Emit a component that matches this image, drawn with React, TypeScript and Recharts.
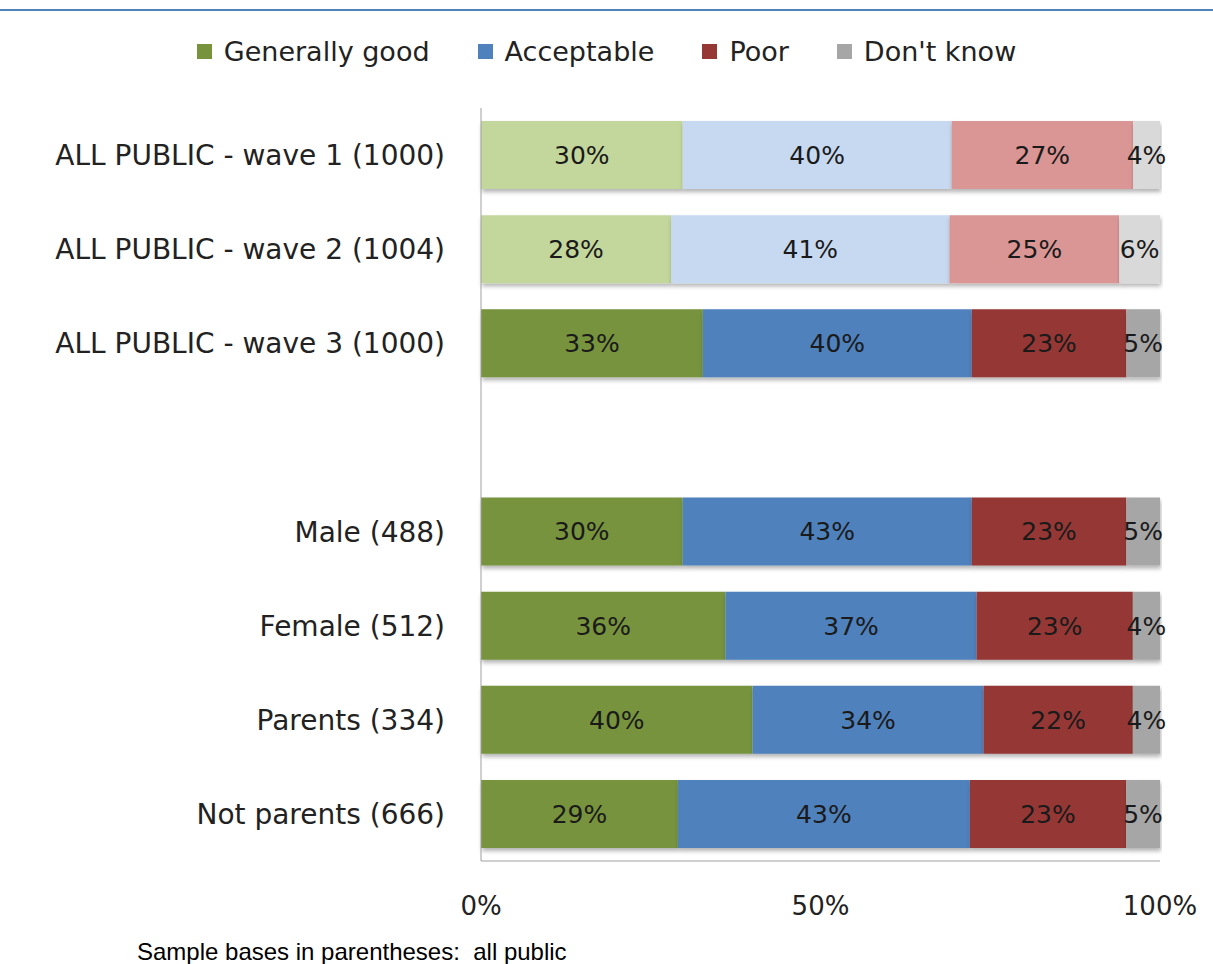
import { Bar, BarChart, Cell, LabelList, Legend, XAxis, YAxis } from "recharts";

const categories = [
  "ALL PUBLIC - wave 1 (1000)",
  "ALL PUBLIC - wave 2 (1004)",
  "ALL PUBLIC - wave 3 (1000)",
  "",
  "Male (488)",
  "Female (512)",
  "Parents (334)",
  "Not parents (666)",
];
const generallyGood = [30, 28, 33, null, 30, 36, 40, 29];
const acceptable = [40, 41, 40, null, 43, 37, 34, 43];
const poor = [27, 25, 23, null, 23, 23, 22, 23];
const dontKnow = [4, 6, 5, null, 5, 4, 4, 5];
const xTicks = [0, 0.5, 1];

const data = categories.map((name, i) => ({
  name,
  good: generallyGood[i],
  acceptable: acceptable[i],
  poor: poor[i],
  dontKnow: dontKnow[i],
}));

// earlier waves are drawn in the paler shade
const FADED_ROWS = [0, 1];
const FONT = "'DejaVu Sans', sans-serif";

const series = [
  { key: "good", name: "Generally good", color: "#77933c", faded: "#c3d69b" },
  { key: "acceptable", name: "Acceptable", color: "#4f81bd", faded: "#c6d9f0" },
  { key: "poor", name: "Poor", color: "#953735", faded: "#d99694" },
  { key: "dontKnow", name: "Don't know", color: "#a6a6a6", faded: "#d9d9d9" },
];

function ChartLegend() {
  return (
    <div style={{ display: "flex", justifyContent: "center", gap: 48, fontFamily: FONT, fontSize: 27, color: "#222" }}>
      {series.map((s) => (
        <div key={s.key} style={{ display: "flex", alignItems: "center", gap: 12 }}>
          <span style={{ width: 15, height: 15, background: s.color, display: "inline-block" }} />
          <span>{s.name}</span>
        </div>
      ))}
    </div>
  );
}

export default function App() {
  return (
    <div style={{ position: "absolute", left: 0, top: 0, width: 1213, height: 964, background: "#fff" }}>
      <style>{`
        .seg-labels text { paint-order: stroke; stroke: rgba(255,255,255,0.6); stroke-width: 5px; stroke-linejoin: round; }
      `}</style>
      <div style={{ position: "absolute", left: 0, top: 9, width: 1213, height: 2, background: "#4f81bd" }} />
      <BarChart
        width={1213}
        height={964}
        data={data}
        layout="vertical"
        stackOffset="expand"
        barSize={68}
        margin={{ top: 108, right: 53, bottom: 43, left: 0 }}
      >
        <defs>
          <filter id="barShadow" x="-5%" y="-20%" width="110%" height="160%">
            <feDropShadow dx="1" dy="3" stdDeviation="2" floodColor="#000" floodOpacity="0.3" />
          </filter>
        </defs>
        <XAxis
          type="number"
          domain={[0, 1]}
          ticks={xTicks}
          tickFormatter={(v) => `${Math.round(v * 100)}%`}
          tick={{ fill: "#222", fontSize: 26, fontFamily: FONT }}
          axisLine={{ stroke: "#a0a0a0" }}
          tickLine={false}
          tickMargin={30}
          height={60}
        />
        <YAxis
          type="category"
          dataKey="name"
          width={481}
          tick={{ fill: "#222", fontSize: 28, fontFamily: FONT }}
          axisLine={{ stroke: "#a0a0a0" }}
          tickLine={false}
          tickMargin={30}
        />
        <Legend verticalAlign="middle" align="center" wrapperStyle={{ top: 36, left: 0, width: 1213 }} content={() => <ChartLegend />} />
        {series.map((s) => (
          <Bar key={s.key} dataKey={s.key} name={s.name} stackId="a" fill={s.color} filter="url(#barShadow)" isAnimationActive={false}>
            {data.map((_, i) => (
              <Cell key={i} fill={FADED_ROWS.includes(i) ? s.faded : s.color} />
            ))}
            <LabelList
              dataKey={s.key}
              position="center"
              className="seg-labels"
              fill="#1a1a1a"
              fontSize={25}
              fontFamily={FONT}
              formatter={(v: unknown) => (v == null ? "" : `${v}%`)}
            />
          </Bar>
        ))}
      </BarChart>
      <div
        style={{
          position: "absolute",
          left: 137,
          top: 940,
          fontFamily: "'Liberation Sans', Arial, sans-serif",
          fontSize: 24,
          lineHeight: "24px",
          color: "#000",
          whiteSpace: "pre",
        }}
      >
        {"Sample bases in parentheses:  all public"}
      </div>
    </div>
  );
}
